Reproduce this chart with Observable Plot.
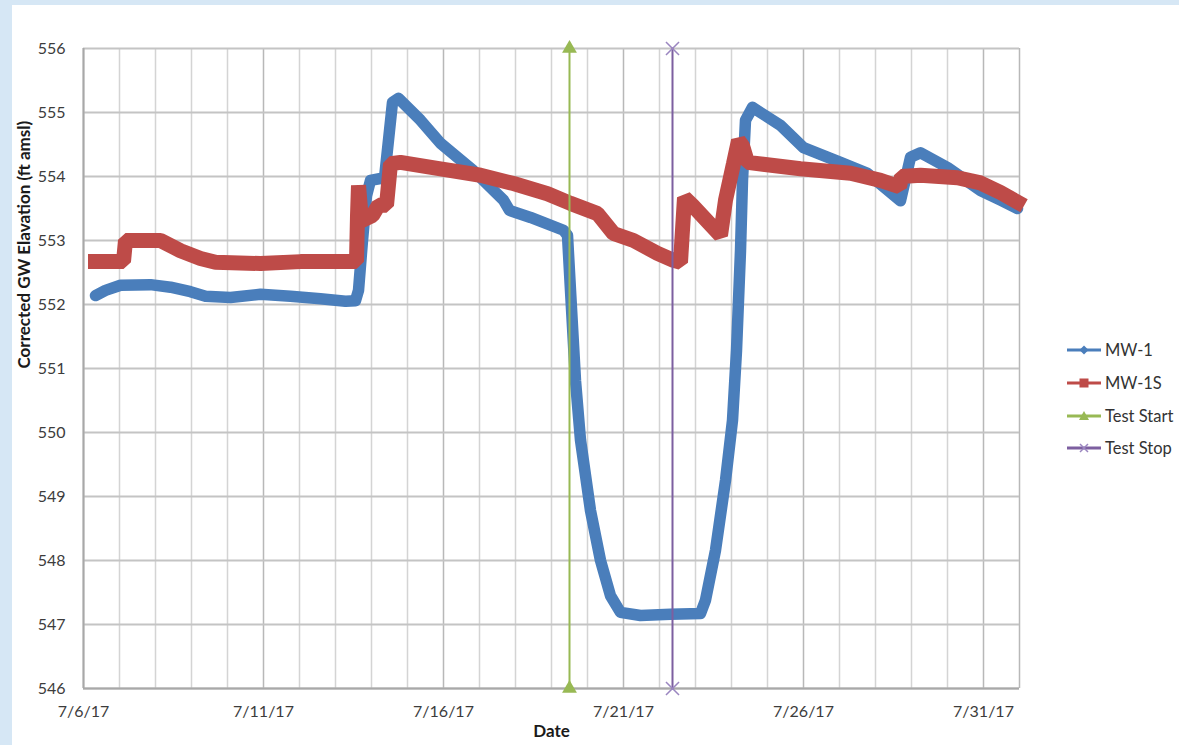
<!DOCTYPE html>
<html><head><meta charset="utf-8">
<script src="https://cdn.jsdelivr.net/npm/d3@7"></script>
<script src="https://cdn.jsdelivr.net/npm/@observablehq/plot@0.6"></script>
<style>
html,body{margin:0;padding:0;background:#d6e7f5;width:1179px;height:745px;overflow:hidden;font-family:Lato,sans-serif}
#card{position:absolute;left:12px;top:5px;width:1167px;height:740px;background:#fff}
#chart{position:absolute;left:0;top:0}
#legend{position:absolute;left:1066px;top:334px;font-size:16.5px;color:#333}
#legend div{display:flex;align-items:center;height:32.7px}
#legend svg{margin-right:3px}
</style></head><body>
<div id="card"></div><div id="chart"></div><div id="legend"></div>
<script>
// ---- data ----
const mw1Times = ["07-06 08:00","07-06 14:40","07-07 00:40","07-07 20:40","07-08 10:00","07-08 23:20","07-09 09:20","07-10 02:00","07-10 22:00","07-11 18:00","07-12 14:00","07-13 06:40","07-13 13:20","07-13 15:20","07-13 18:00","07-13 20:40","07-13 23:20","07-14 08:40","07-14 14:00","07-14 18:00","07-15 08:40","07-15 22:00","07-16 20:00","07-17 16:00","07-17 20:00","07-18 10:00","07-19 08:00","07-19 10:40","07-19 12:40","07-19 16:00","07-19 19:20","07-20 02:00","07-20 08:40","07-20 15:20","07-20 22:00","07-21 11:20","07-22 07:20","07-23 03:20","07-23 06:40","07-23 13:20","07-23 20:00","07-24 00:40","07-24 03:20","07-24 06:00","07-24 07:20","07-24 09:20","07-24 14:00","07-25 08:40","07-26 00:00","07-27 00:40","07-27 18:40","07-28 16:40","07-28 23:20","07-29 06:00","07-30 00:00","07-30 22:00","07-31 11:20","07-31 22:40"];
const mw1Values = [552.14,552.22,552.30,552.31,552.27,552.20,552.13,552.11,552.16,552.13,552.09,552.05,552.06,552.22,553.00,553.70,553.94,553.98,555.16,555.22,554.88,554.52,554.09,553.63,553.47,553.36,553.16,553.08,552.22,550.81,549.88,548.78,548.00,547.45,547.19,547.14,547.16,547.17,547.38,548.16,549.25,550.19,551.28,552.84,553.94,554.88,555.08,554.80,554.45,554.22,554.05,553.62,554.30,554.37,554.14,553.78,553.63,553.50];

const mw1sTimes = ["07-06 08:00","07-07 02:40","07-07 04:00","07-08 03:20","07-08 16:40","07-09 06:00","07-09 16:00","07-10 22:00","07-12 00:40","07-13 14:00","07-13 14:40","07-13 15:20","07-13 17:20","07-14 00:40","07-14 04:40","07-14 10:00","07-14 12:40","07-14 19:20","07-15 22:00","07-17 00:40","07-17 22:40","07-18 21:20","07-19 12:40","07-20 06:40","07-20 17:20","07-21 06:40","07-21 22:40","07-22 09:20","07-22 14:00","07-22 16:40","07-22 22:00","07-23 16:40","07-23 20:00","07-24 01:20","07-24 04:40","07-24 07:20","07-24 10:40","07-25 22:00","07-27 07:20","07-28 03:20","07-28 16:00","07-28 17:20","07-29 06:00","07-30 06:40","07-30 22:00","07-31 11:20","07-31 22:40"];
const mw1sValues = [552.67,552.67,553.00,553.00,552.84,552.72,552.66,552.64,552.67,552.67,553.39,553.86,553.31,553.39,553.55,553.55,554.20,554.22,554.12,554.02,553.89,553.73,553.58,553.42,553.11,553.00,552.80,552.69,552.66,553.67,553.55,553.08,553.63,554.20,554.56,554.48,554.22,554.12,554.05,553.94,553.84,554.00,554.02,553.98,553.90,553.75,553.60];

const testStartTime = "07-19 12:00";
const testStopTime = "07-22 08:40";
const testLevels = [546, 556];

const yTicks = [546,547,548,549,550,551,552,553,554,555,556];
const xTickDates = ["07-06 00:00","07-11 00:00","07-16 00:00","07-21 00:00","07-26 00:00","07-31 00:00"];
const xDomainDates = ["07-06 00:00","08-01 00:00"];

const seriesNames = ["MW-1","MW-1S","Test Start","Test Stop"];
const seriesColors = ["#4a7ebb","#be4b48","#98b954","#7d5fa0"];
const yLabel = "Corrected GW Elavation (ft amsl)";
const xLabel = "Date";

// ---- build ----
const toDate = s => new Date(`2017-${s.replace(" ","T")}:00Z`);
const mw1 = mw1Times.map((t,i) => ({date: toDate(t), value: mw1Values[i]}));
const mw1s = mw1sTimes.map((t,i) => ({date: toDate(t), value: mw1sValues[i]}));
const startRows = testLevels.map(v => ({date: toDate(testStartTime), value: v}));
const stopRows = testLevels.map(v => ({date: toDate(testStopTime), value: v}));
const xDomain = xDomainDates.map(toDate);
const days = d3.utcDay.range(xDomain[0], new Date(+xDomain[1] + 1));
const majorDays = xTickDates.map(toDate).concat([xDomain[1]]);
const minorDays = days.filter(d => !majorDays.some(m => +m === +d));
const fmt = d => `${d.getUTCMonth()+1}/${d.getUTCDate()}/17`;

const chart = Plot.plot({
  width: 1179, height: 745,
  marginLeft: 83, marginRight: 160, marginTop: 48, marginBottom: 57,
  style: {fontFamily: 'Lato, sans-serif', fontSize: "16px", color: "#3c3c3c", background: "transparent", overflow: "visible"},
  x: {type: "utc", domain: xDomain},
  y: {domain: [546, 556]},
  marks: [
    Plot.ruleX(minorDays, {stroke: "#d4d4d4", strokeWidth: 1.5}),
    Plot.ruleX(majorDays, {stroke: "#b8b8b8", strokeWidth: 1.5}),
    Plot.ruleY(yTicks, {stroke: "#c4c4c4", strokeWidth: 2}),
    Plot.ruleX([xDomain[0]], {stroke: "#a8a8a8", strokeWidth: 2}),
    Plot.ruleY([546], {stroke: "#a8a8a8", strokeWidth: 2}),
    Plot.axisY({ticks: yTicks, tickSize: 0, tickPadding: 18, label: null, tickFormat: d => d}),
    Plot.axisX({ticks: xTickDates.map(toDate), tickSize: 0, tickPadding: 17, label: null, tickFormat: fmt}),
    Plot.line(mw1, {x: "date", y: "value", stroke: seriesColors[0], strokeWidth: 11.5, strokeLinejoin: "round", strokeLinecap: "round"}),
    Plot.line(mw1s, {x: "date", y: "value", stroke: seriesColors[1], strokeWidth: 15, strokeLinejoin: "miter", strokeLinecap: "square"}),
    Plot.line(startRows, {x: "date", y: "value", stroke: seriesColors[2], strokeWidth: 2}),
    Plot.dot(startRows, {x: "date", y: "value", symbol: "triangle", fill: seriesColors[2], r: 5.5}),
    Plot.line(stopRows, {x: "date", y: "value", stroke: seriesColors[3], strokeWidth: 2}),
    Plot.dot(stopRows, {x: "date", y: "value", symbol: "times", stroke: "#9b86c0", strokeWidth: 1.5, r: 6}),
    Plot.text([yLabel], {frameAnchor: "left", dx: -59, rotate: -90, fontWeight: "bold", fontSize: 17, fill: "#1a1a1a"}),
    Plot.text([xLabel], {frameAnchor: "bottom", dy: 48, fontWeight: "bold", fontSize: 17, fill: "#1a1a1a"})
  ]
});
document.getElementById("chart").appendChild(chart);

// legend
const markerSvg = i => {
  const c = seriesColors[i];
  const m = [
    `<path d="M18 1.5 L22.5 6 L18 10.5 L13.5 6 Z" fill="${c}"/>`,
    `<rect x="13.5" y="1.5" width="9" height="9" fill="${c}"/>`,
    `<path d="M18 1 L23 10 L13 10 Z" fill="${c}"/>`,
    `<path d="M14 2 L22 10 M22 2 L14 10" stroke="#9b86c0" stroke-width="1.5"/>`
  ][i];
  return `<svg width="36" height="12"><line x1="1" y1="6" x2="35" y2="6" stroke="${c}" stroke-width="3"/>${m}</svg>`;
};
document.getElementById("legend").innerHTML = seriesNames.map((n,i) => `<div>${markerSvg(i)}<span>${n}</span></div>`).join("");
</script>
</body></html>
